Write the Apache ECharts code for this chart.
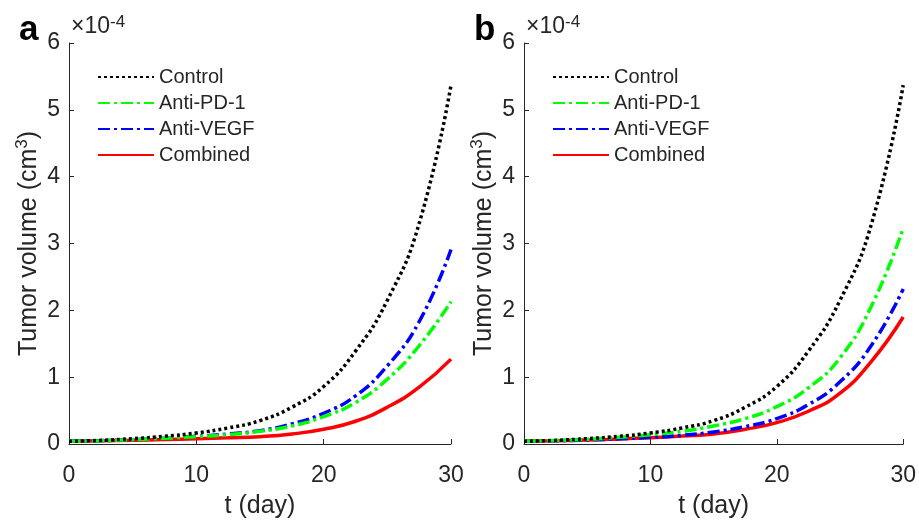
<!DOCTYPE html>
<html>
<head>
<meta charset="utf-8">
<script src="https://cdn.jsdelivr.net/npm/echarts@6/dist/echarts.min.js"></script>
<style>
html,body{margin:0;padding:0;background:#fff;}
#main{width:919px;height:524px;}
</style>
</head>
<body>
<div id="main"></div>
<script>
// time points (day)
const tDays = [0, 2.5, 5, 7.5, 10, 12.5, 15, 17.5, 20, 22.5, 25, 27.5, 30];
// tumor volume, units of 1e-4 cm^3
const controlA  = [0.04, 0.055, 0.08, 0.115, 0.165, 0.24, 0.35, 0.55, 0.86, 1.39, 2.15, 3.30, 5.37];
const antiPD1A  = [0.04, 0.05, 0.065, 0.085, 0.11, 0.14, 0.19, 0.27, 0.41, 0.62, 0.97, 1.47, 2.13];
const antiVEGFA = [0.04, 0.05, 0.065, 0.087, 0.115, 0.15, 0.20, 0.30, 0.46, 0.72, 1.17, 1.83, 2.91];
const combinedA = [0.04, 0.047, 0.055, 0.066, 0.08, 0.092, 0.11, 0.15, 0.22, 0.34, 0.55, 0.85, 1.27];

const controlB  = [0.04, 0.055, 0.08, 0.115, 0.165, 0.24, 0.35, 0.55, 0.86, 1.39, 2.15, 3.30, 5.37];
const antiPD1B  = [0.04, 0.053, 0.07, 0.10, 0.14, 0.19, 0.27, 0.38, 0.56, 0.84, 1.29, 2.07, 3.23];
const antiVEGFB = [0.04, 0.048, 0.06, 0.078, 0.10, 0.13, 0.18, 0.26, 0.38, 0.59, 0.93, 1.48, 2.32];
const combinedB = [0.04, 0.048, 0.058, 0.075, 0.095, 0.12, 0.15, 0.22, 0.32, 0.49, 0.76, 1.24, 1.90];

const seriesNames = ['Control', 'Anti-PD-1', 'Anti-VEGF', 'Combined'];
const xTicks = [0, 10, 20, 30];
const yTicks = [0, 1, 2, 3, 4, 5, 6];
const panelLabels = ['a', 'b'];

const FONT = 'Liberation Sans, Arial, Helvetica, sans-serif';
const AXC = '#262626';

const styles = [
  {color: '#000000', type: [3, 3]},
  {color: '#00ff00', type: [12, 4, 3, 4]},
  {color: '#0000ff', type: [12, 4, 3, 4]},
  {color: '#ff0000', type: 'solid'}
];

function pairs(vals) { return tDays.map((t, i) => [t, vals[i]]); }

const panelData = [
  [controlA, antiPD1A, antiVEGFA, combinedA],
  [controlB, antiPD1B, antiVEGFB, combinedB]
];

const gridLefts = [69, 524];

const chart = echarts.init(document.getElementById('main'), null, {renderer: 'canvas'});

const option = {
  animation: false,
  backgroundColor: '#ffffff',
  textStyle: {fontFamily: FONT},
  title: [],
  legend: [],
  grid: [],
  xAxis: [],
  yAxis: [],
  series: []
};

panelLabels.forEach((lab, p) => {
  const L = gridLefts[p];
  option.grid.push({left: L, top: 43, width: 382, height: 411, containLabel: false});
  option.title.push({
    text: lab, left: L - 50, top: 13, padding: 0,
    textStyle: {fontSize: 35, fontWeight: 'bold', color: '#000', fontFamily: FONT}
  });
  option.title.push({
    text: '{x|\u00d710}{s|-4}', left: L + 2, top: 14, padding: 0,
    textStyle: {
      fontFamily: FONT, fontWeight: 'normal',
      rich: {
        x: {fontSize: 23, fontWeight: 'normal', color: AXC, fontFamily: FONT, lineHeight: 26},
        s: {fontSize: 17, fontWeight: 'normal', color: AXC, fontFamily: FONT, verticalAlign: 'top', lineHeight: 26, padding: [0, 0, 10, 0]}
      }
    }
  });
  option.legend.push({
    orient: 'vertical',
    left: L + 28, top: 67, padding: 0,
    itemWidth: 56, itemHeight: 12,
    itemGap: 6,
    data: seriesNames,
    selectedMode: false,
    itemStyle: {opacity: 0},
    textStyle: {fontSize: 20, color: AXC, fontFamily: FONT, lineHeight: 20}
  });
  option.xAxis.push({
    type: 'value', gridIndex: p, min: 0, max: 30, interval: 10,
    name: 't (day)', nameLocation: 'middle', nameGap: 50,
    nameTextStyle: {fontSize: 25, color: AXC, fontFamily: FONT},
    axisLine: {show: true, lineStyle: {color: AXC, width: 1}},
    axisTick: {show: true, inside: true, length: 5, lineStyle: {color: AXC}},
    axisLabel: {fontSize: 23, color: AXC, margin: 20, fontFamily: FONT,
      formatter: v => xTicks.includes(v) ? String(v) : ''},
    splitLine: {show: false}
  });
  option.yAxis.push({
    type: 'value', gridIndex: p, min: 0, max: 6, interval: 1,
    name: '{n|Tumor volume (cm}{s|3}{n|)}', nameLocation: 'middle', nameGap: 25, nameRotate: 90,
    nameTextStyle: {
      fontFamily: FONT,
      rich: {
        n: {fontSize: 25, color: AXC, fontFamily: FONT, lineHeight: 30},
        s: {fontSize: 17, color: AXC, fontFamily: FONT, verticalAlign: 'top', lineHeight: 30, padding: [0, 0, 12, 0]}
      }
    },
    axisLine: {show: true, lineStyle: {color: AXC, width: 1}},
    axisTick: {show: true, inside: true, length: 5, lineStyle: {color: AXC}},
    axisLabel: {fontSize: 23, color: AXC, margin: 9, fontFamily: FONT,
      formatter: v => yTicks.includes(v) ? String(v) : ''},
    splitLine: {show: false}
  });
  seriesNames.forEach((nm, s) => {
    option.series.push({
      type: 'line', name: nm, xAxisIndex: p, yAxisIndex: p,
      data: pairs(panelData[p][s]),
      smooth: 0.5, symbol: 'none', showSymbol: false,
      lineStyle: {color: styles[s].color, width: 3.5, type: styles[s].type, cap: 'butt'},
      itemStyle: {color: styles[s].color},
      z: 10 - s
    });
  });
});

chart.setOption(option);
</script>
</body>
</html>
